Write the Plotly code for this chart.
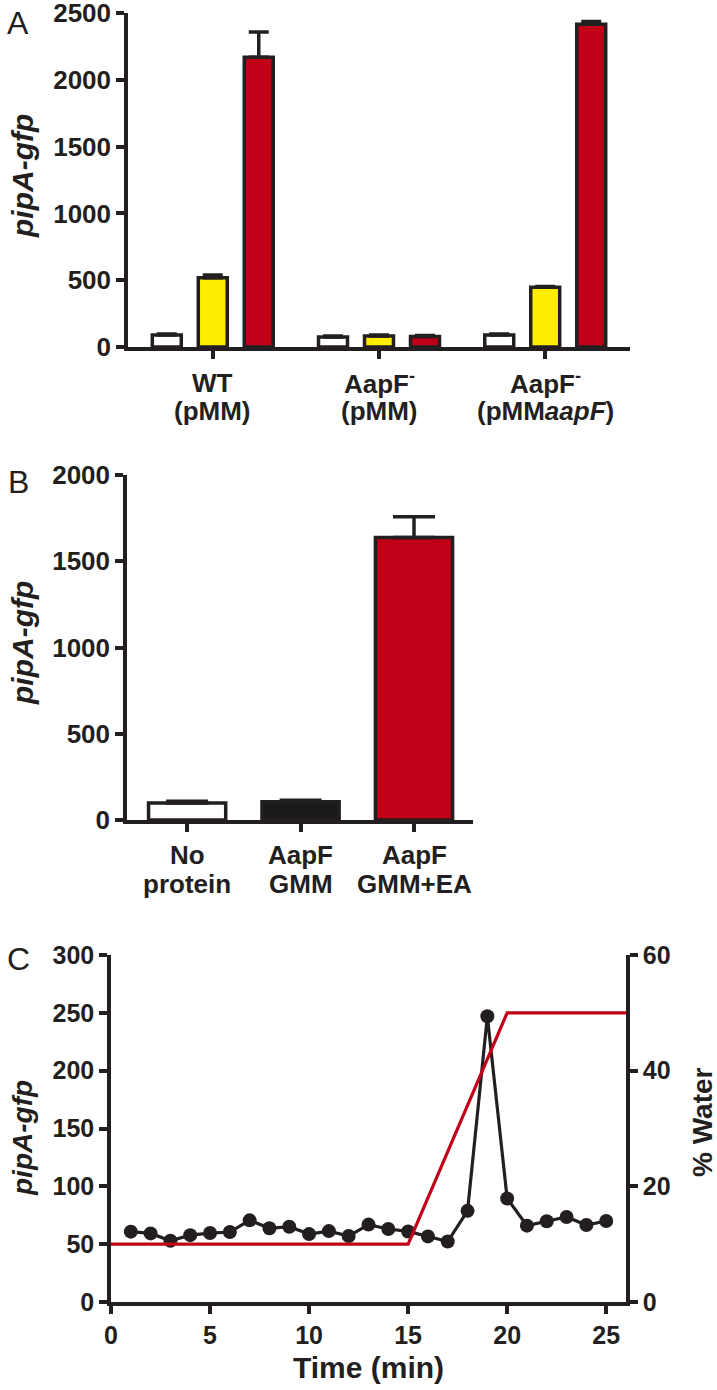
import plotly.graph_objects as go

W, H = 717, 1390
INK = "#231F20"
RED = "#C10018"
YELLOW = "#FFED00"
FONT = "Liberation Sans, Arial, sans-serif"

# ---- panel A: pipA-gfp in three strains
strains_a = ["WT", "AapF-", "AapF- aapF"]
strain_line1 = ["WT", "AapF<sup>-</sup>", "AapF<sup>-</sup>"]
strain_line2 = ["(pMM)", "(pMM)", "(pMM<i>aapF</i>)"]
white_a = [90, 75, 90]
white_a_err = [8, 8, 8]
yellow_a = [518, 82, 448]
yellow_a_err = [20, 8, 4]
red_a = [2168, 78, 2415]
red_a_err = [190, 8, 22]

# ---- panel B: protein extracts
samples_b = ["No protein", "AapF GMM", "AapF GMM+EA"]
sample_line1 = ["No", "AapF", "AapF"]
sample_line2 = ["protein", "GMM", "GMM+EA"]
values_b = [98, 106, 1638]
errors_b = [10, 8, 120]
colors_b = ["white", "#1A1A1A", RED]

# ---- panel C: fractions over time
time_c = list(range(1, 26))
gfp_c = [60.8, 59.3, 52.9, 57.8, 59.6, 60.5, 70.6, 63.7, 65.1, 58.7,
         61.3, 57.0, 66.9, 63.1, 61.0, 56.7, 52.3, 78.8, 247.0, 89.5,
         66.0, 69.8, 73.5, 66.6, 70.0]
water_time = [0, 15, 20, 26]
water_pct = [10, 10, 50, 50]


def bold_font(size):
    return dict(family=FONT, size=size, color=INK, weight="bold")


axis_common = dict(
    showline=True, linecolor=INK, linewidth=3.5,
    ticks="outside", tickcolor=INK, tickwidth=3.5, ticklen=8,
    showgrid=False, zeroline=False, tickfont=bold_font(26),
    automargin=False, ticklabeloverflow="allow",
)

fig = go.Figure()

# panel A bars
for vals, errs, color in [(white_a, white_a_err, "white"),
                          (yellow_a, yellow_a_err, YELLOW),
                          (red_a, red_a_err, RED)]:
    fig.add_trace(go.Bar(
        x=strains_a, y=vals,
        marker=dict(color=color, line=dict(color=INK, width=3.5)),
        error_y=dict(type="data", symmetric=False, array=errs,
                     arrayminus=[0] * len(errs), color=INK,
                     thickness=3.5, width=10),
        xaxis="x", yaxis="y", showlegend=False,
    ))

# panel B bars
fig.add_trace(go.Bar(
    x=samples_b, y=values_b, width=0.68,
    marker=dict(color=colors_b, line=dict(color=INK, width=3.5)),
    error_y=dict(type="data", symmetric=False, array=errors_b,
                 arrayminus=[0] * len(errors_b), color=INK,
                 thickness=3.5, width=21),
    xaxis="x2", yaxis="y2", showlegend=False,
))

# panel C lines
fig.add_trace(go.Scatter(
    x=time_c, y=gfp_c, mode="lines+markers",
    line=dict(color=INK, width=3.2),
    marker=dict(color=INK, size=14),
    xaxis="x3", yaxis="y3", showlegend=False,
))
fig.add_trace(go.Scatter(
    x=water_time, y=water_pct, mode="lines",
    line=dict(color=RED, width=3.2),
    xaxis="x3", yaxis="y4", showlegend=False,
))


def dom_x(a, b):
    return [a / W, b / W]


def dom_y(top, bottom):
    return [1 - bottom / H, 1 - top / H]


fig.update_layout(
    width=W, height=H,
    margin=dict(l=0, r=0, t=0, b=0),
    paper_bgcolor="white", plot_bgcolor="white",
    barmode="group", bargap=0.17, bargroupgap=0.37,
    font=dict(family=FONT, color=INK),
    xaxis=dict(axis_common, domain=dom_x(128, 630), anchor="y",
               type="category", range=[-0.51, 2.51], showticklabels=False),
    yaxis=dict(axis_common, domain=dom_y(13, 347), anchor="x",
               range=[0, 2500], dtick=500),
    xaxis2=dict(axis_common, domain=dom_x(127, 473), anchor="y2",
                type="category", range=[-0.53, 2.52], showticklabels=False),
    yaxis2=dict(axis_common, domain=dom_y(475, 820), anchor="x2",
                range=[0, 2000], dtick=500),
    xaxis3=dict(axis_common, domain=dom_x(111, 626), anchor="y3",
                range=[0, 26], tickvals=[0, 5, 10, 15, 20, 25],
                tickfont=bold_font(25),
                title=dict(text="Time (min)", standoff=10,
                           font=bold_font(30))),
    yaxis3=dict(axis_common, domain=dom_y(955, 1302), anchor="x3",
                range=[0, 300], dtick=50, tickfont=bold_font(25)),
    yaxis4=dict(axis_common, overlaying="y3", side="right", anchor="x3",
                range=[0, 60], dtick=20, tickfont=bold_font(25)),
)

# two-line category labels (tighter line spacing than tick labels allow)
for cats, l1, l2, xref, y1, y2 in [
        (strains_a, strain_line1, strain_line2, "x", 383, 411),
        (samples_b, sample_line1, sample_line2, "x2", 855, 884)]:
    for cat, a, b in zip(cats, l1, l2):
        for txt, cy in [(a, y1), (b, y2)]:
            fig.add_annotation(text=txt, x=cat, xref=xref, y=1 - cy / H,
                               yref="paper", xanchor="center",
                               yanchor="middle", showarrow=False,
                               font=bold_font(26))

letters = [("A", 23), ("B", 482), ("C", 959)]
for txt, cy in letters:
    fig.add_annotation(text=txt, x=18 / W, y=1 - cy / H, xref="paper",
                       yref="paper", xanchor="center", yanchor="middle",
                       showarrow=False,
                       font=dict(family=FONT, size=32, color=INK))

titles = [("<i>pipA-gfp</i>", 22, 176, 30),
          ("<i>pipA-gfp</i>", 22, 643, 30),
          ("<i>pipA-gfp</i>", 22, 1138, 28),
          ("% Water", 702, 1122, 28)]
for txt, cx, cy, size in titles:
    fig.add_annotation(text=txt, x=cx / W, y=1 - cy / H, xref="paper",
                       yref="paper", xanchor="center", yanchor="middle",
                       textangle=-90, showarrow=False,
                       font=bold_font(size))

fig.write_html(
    "out.html",
    config={"displayModeBar": False},
    post_script="document.body.style.margin='0';"
                "document.body.style.overflow='hidden';",
)
